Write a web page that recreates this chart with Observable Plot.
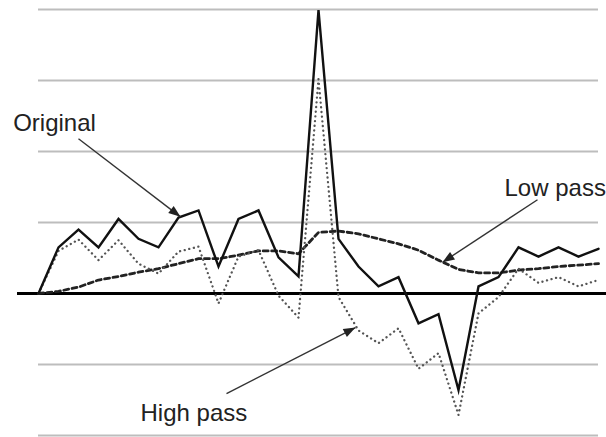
<!DOCTYPE html>
<html>
<head>
<meta charset="utf-8">
<script src="https://cdn.jsdelivr.net/npm/d3@7"></script>
<script src="https://cdn.jsdelivr.net/npm/@observablehq/plot@0.6"></script>
<style>
  html, body { margin: 0; padding: 0; background: #fff; }
  #chart svg { display: block; }
</style>
</head>
<body>
<div id="chart"></div>
<script>
// ---- data ----
const index = d3.range(29);
const original = [0, 0.65, 0.90, 0.65, 1.05, 0.77, 0.65, 1.07, 1.17, 0.38, 1.05, 1.17, 0.51, 0.24, 3.99,
                  0.77, 0.38, 0.10, 0.23, -0.42, -0.29, -1.36, 0.10, 0.23, 0.65, 0.52, 0.65, 0.52, 0.63];
const lowPass  = [0, 0.03, 0.09, 0.19, 0.24, 0.30, 0.35, 0.42, 0.49, 0.49, 0.54, 0.60, 0.60, 0.56, 0.86,
                  0.88, 0.84, 0.77, 0.70, 0.61, 0.47, 0.34, 0.29, 0.29, 0.33, 0.35, 0.38, 0.40, 0.42];
const highPass = [0, 0.60, 0.76, 0.47, 0.75, 0.42, 0.28, 0.59, 0.66, -0.14, 0.52, 0.61, -0.03, -0.34, 3.02,
                  -0.05, -0.52, -0.70, -0.49, -1.06, -0.84, -1.71, -0.28, -0.05, 0.35, 0.15, 0.23, 0.10, 0.19];
const gridValues = [-2, -1, 1, 2, 3, 4];

const labels = ["Original", "Low pass", "High pass"];
const labelX = [-1.265, 23.3, 5.1];
const labelY = [2.4, 1.485, -1.685];
// arrows: start -> tip
const arrowX1 = [2.0, 24.95, 9.4];
const arrowY1 = [2.18, 1.32, -1.41];
const arrowX2 = [7.1, 20.2, 15.85];
const arrowY2 = [1.08, 0.44, -0.48];

// ---- layout ----
const W = 606, H = 437;
const mL = 38, mR = 8, mT = 9, mB = 2;
const xDomain = [0, 28], yDomain = [-2, 4];
const xUnit = (W - mL - mR) / (xDomain[1] - xDomain[0]);
const yUnit = (H - mT - mB) / (yDomain[1] - yDomain[0]);

const series = index.map(i => ({i, original: original[i], low: lowPass[i], high: highPass[i]}));
const annos = labels.map((t, k) => ({t, x: labelX[k], y: labelY[k]}));
const arrows = arrowX1.map((_, k) => ({x1: arrowX1[k], y1: arrowY1[k], x2: arrowX2[k], y2: arrowY2[k]}));

// filled arrowhead symbol pointing along (dx,dy) in screen pixels, tip at origin
function headSymbol(dx, dy) {
  const n = Math.hypot(dx, dy), ux = dx / n, uy = dy / n;
  const L = 12, hw = 4.5;
  return {
    draw(context) {
      const bx = -L * ux, by = -L * uy;
      context.moveTo(0, 0);
      context.lineTo(bx - hw * uy, by + hw * ux);
      context.lineTo(bx + hw * uy, by - hw * ux);
      context.closePath();
    }
  };
}

const headMarks = arrows.map(a => {
  const dx = (a.x2 - a.x1) * xUnit, dy = -(a.y2 - a.y1) * yUnit;
  return Plot.dot([a], {x: "x2", y: "y2", symbol: headSymbol(dx, dy), r: 6, fill: "#222", stroke: "none"});
});

const chart = Plot.plot({
  width: W, height: H,
  marginLeft: mL, marginRight: mR, marginTop: mT, marginBottom: mB,
  x: {domain: xDomain, axis: null},
  y: {domain: yDomain, axis: null},
  style: {background: "#fff", fontFamily: "'Liberation Sans', Arial, Helvetica, sans-serif"},
  marks: [
    Plot.ruleY(gridValues, {y: d => d, x1: () => 0, x2: () => 28, stroke: "#bdbdbd", strokeWidth: 2}),
    Plot.ruleY([0], {y: d => d, x1: () => -1.05, x2: () => 28.5, stroke: "#000", strokeWidth: 3}),
    Plot.line(series, {x: "i", y: "low", stroke: "#222", strokeWidth: 2.8, strokeDasharray: "5,3.5"}),
    Plot.line(series, {x: "i", y: "high", stroke: "#555", strokeWidth: 2.3, strokeDasharray: "0.1,4.6", strokeLinecap: "round"}),
    Plot.line(series, {x: "i", y: "original", stroke: "#111", strokeWidth: 2.4, strokeLinejoin: "miter", strokeMiterlimit: 10}),
    Plot.link(arrows, {x1: "x1", y1: "y1", x2: "x2", y2: "y2", stroke: "#333", strokeWidth: 1.4}),
    ...headMarks,
    Plot.text(annos, {x: "x", y: "y", text: "t", textAnchor: "start", lineAnchor: "middle", fontSize: 24, fill: "#222"})
  ]
});
document.getElementById("chart").appendChild(chart);
</script>
</body>
</html>
